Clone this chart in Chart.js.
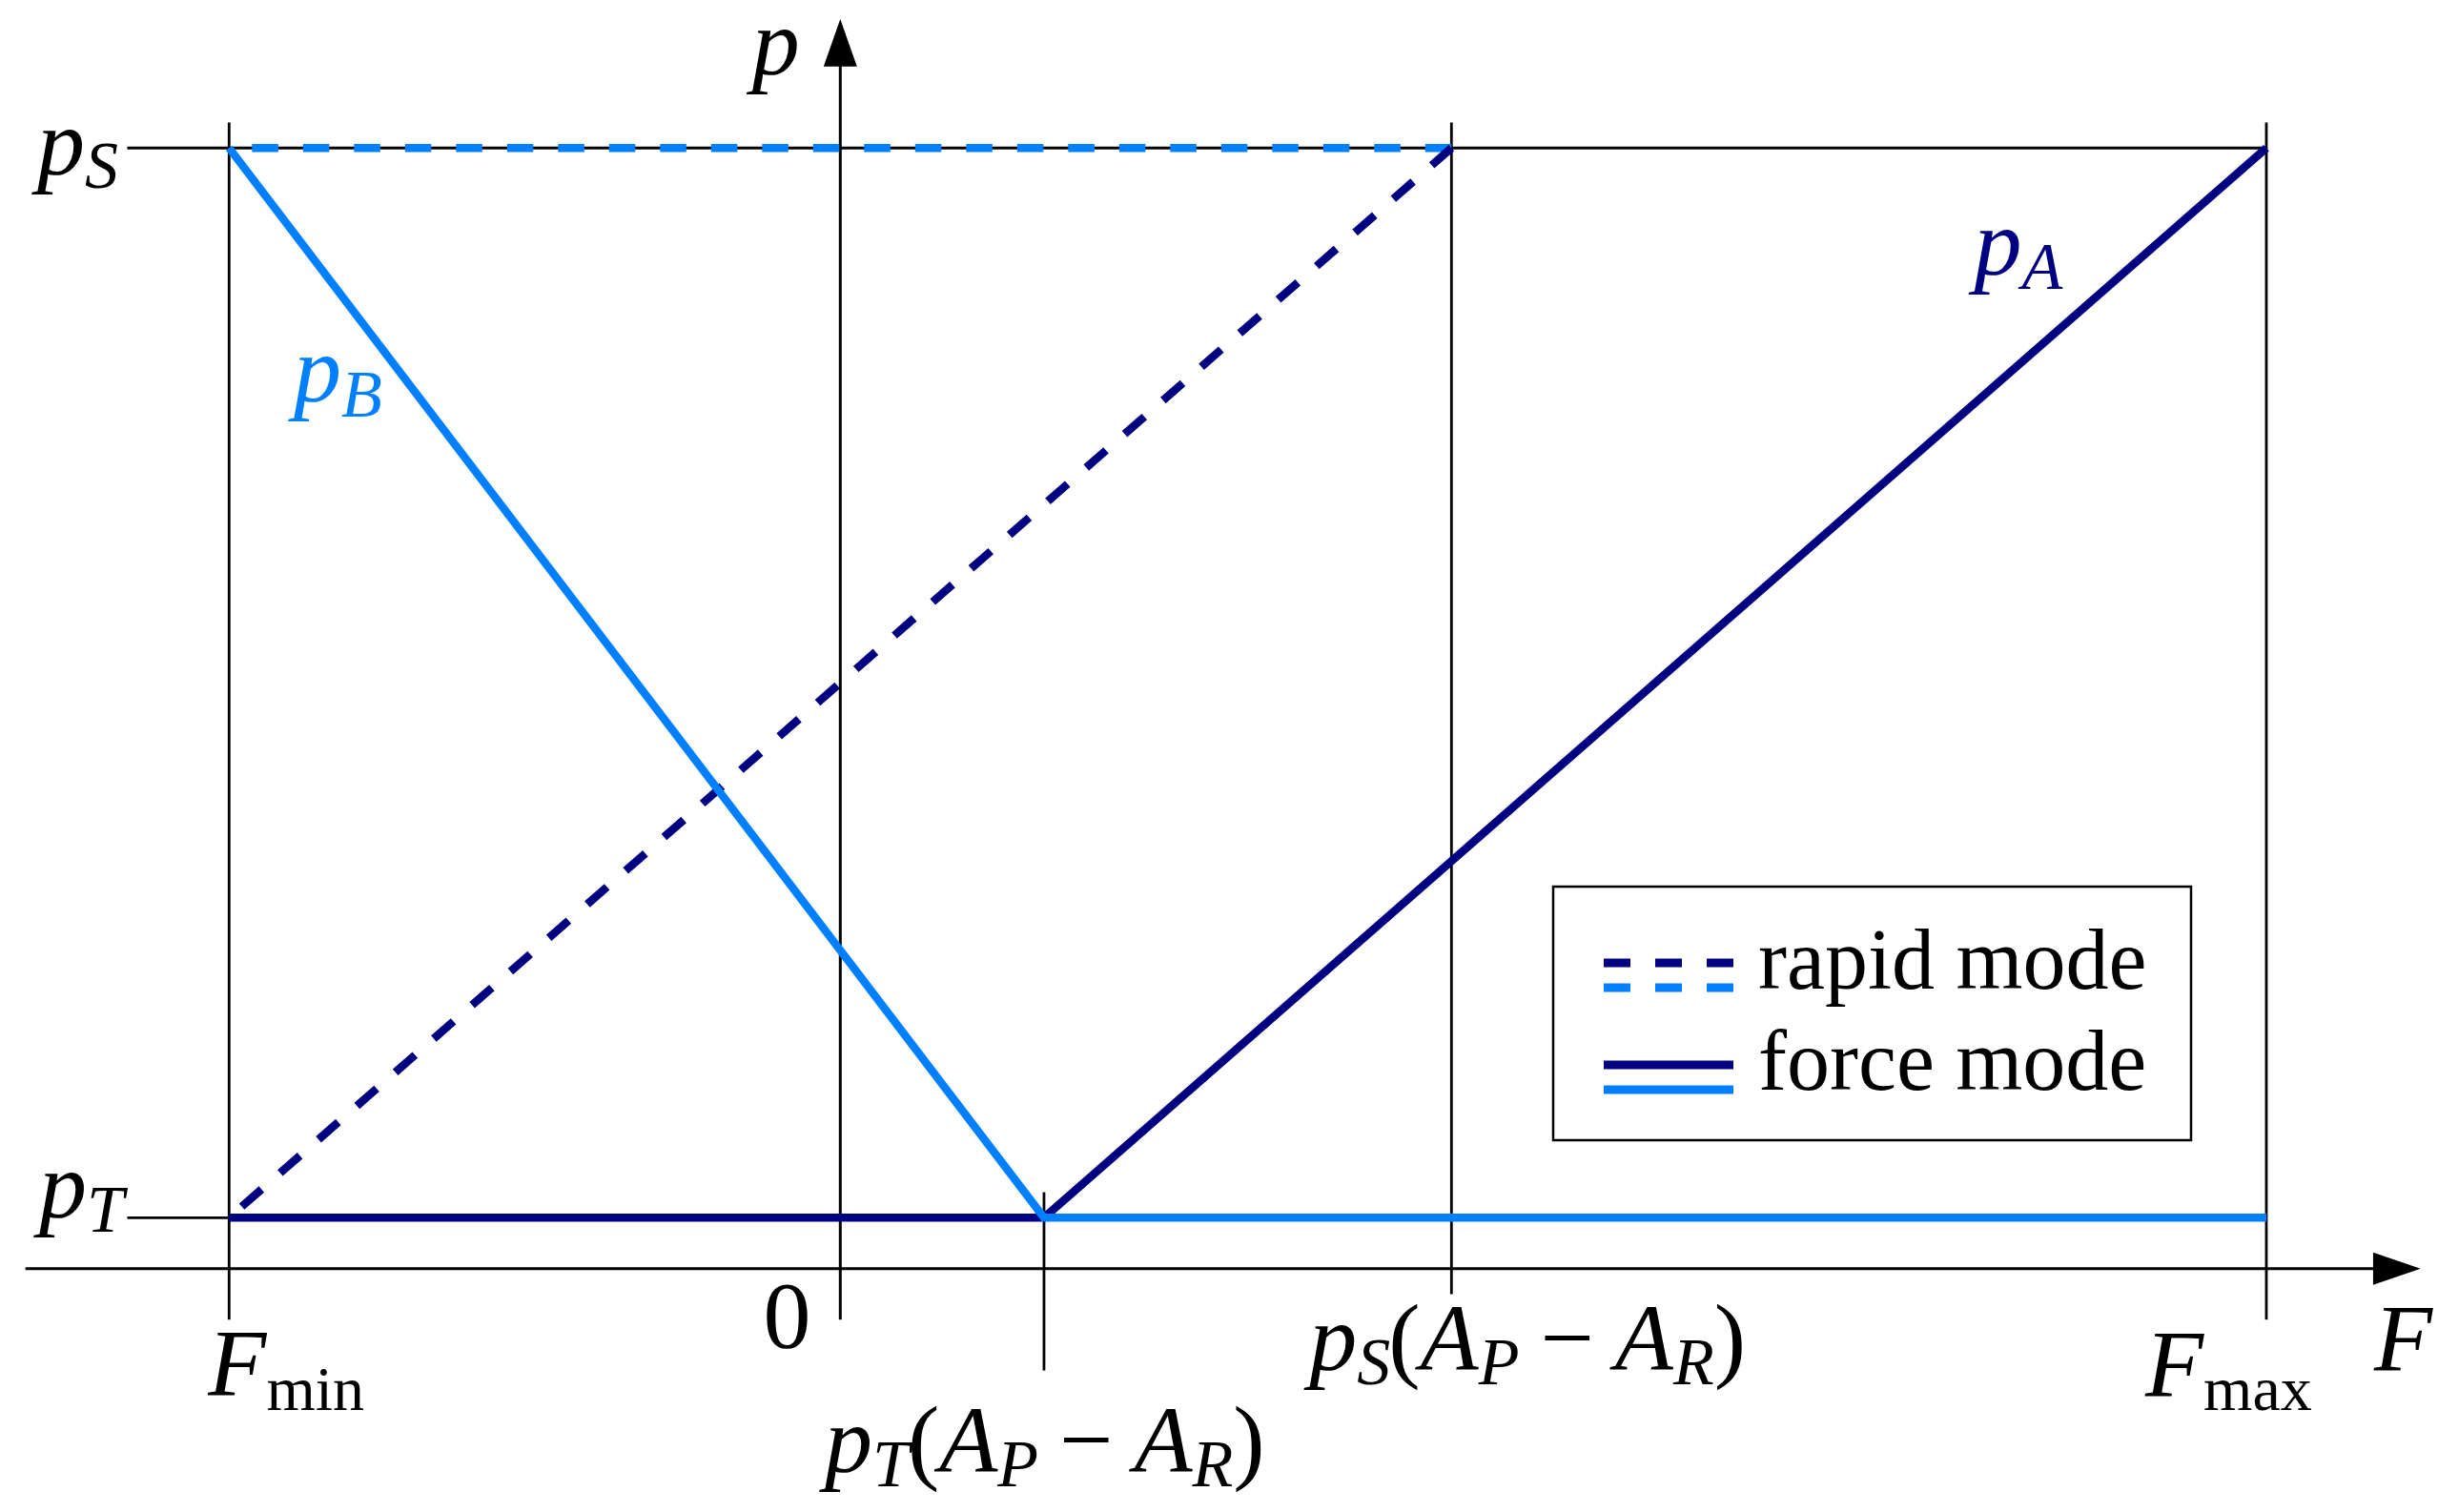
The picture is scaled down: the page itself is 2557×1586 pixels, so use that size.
<!DOCTYPE html>
<html>
<head>
<meta charset="utf-8">
<script src="https://cdn.jsdelivr.net/npm/chart.js@4"></script>
<style>
  html, body { margin: 0; padding: 0; background: #fff; }
  canvas { display: block; }
</style>
</head>
<body>
<canvas id="chart" width="2557" height="1586"></canvas>
<script>
// force axis marks: Fmin, 0, pT(AP-AR), pS(AP-AR), Fmax
const forceTicks = [-3, 0, 1, 3, 7];
// pressure levels: pT, pS
const pressureTicks = [10, 220];

// rapid mode (dashed), listed from the upper right corner
const rapidA_F = [3, -3];
const rapidA_p = [220, 10];
const rapidB_F = [3, -3];
const rapidB_p = [220, 220];

// force mode (solid)
const forceA_F = [-3, 1, 7];
const forceA_p = [10, 10, 220];
const forceB_F = [-3, 1, 7];
const forceB_p = [220, 10, 10];

const NAVY = '#000080';
const LIGHT = '#0080ff';
const DASH = [27.5, 26];

const pts = (xs, ys) => xs.map((x, i) => ({ x: x, y: ys[i] }));

const IT = 'italic 100px "Liberation Serif"';
const RM = '100px "Liberation Serif"';
const ITs = 'italic 70px "Liberation Serif"';
const RMs = '66px "Liberation Serif"';

// draw a row of text pieces, each with its own font and baseline shift
function drawRuns(ctx, x, y, runs, color) {
  ctx.fillStyle = color || '#000';
  ctx.textBaseline = 'alphabetic';
  ctx.textAlign = 'left';
  runs.forEach(r => {
    x += r.pre || 0;
    ctx.font = r.f;
    ctx.fillText(r.t, x, y + (r.dy || 0));
    x += ctx.measureText(r.t).width + (r.post || 0);
  });
}

function coeffRuns(sub) {
  return [
    { t: 'p', f: IT }, { t: sub, f: ITs, dy: 15, post: -2 },
    { t: '(', f: RM }, { t: 'A', f: IT }, { t: 'P', f: ITs, dy: 15 },
    { t: '\u2212', f: RM, pre: 22, post: 22 },
    { t: 'A', f: IT }, { t: 'R', f: ITs, dy: 15 }, { t: ')', f: RM }
  ];
}

const sketch = {
  id: 'sketch',
  beforeDatasetsDraw(chart) {
    const { ctx, scales: { x, y } } = chart;
    ctx.save();
    ctx.strokeStyle = '#000';
    ctx.fillStyle = '#000';
    ctx.lineCap = 'butt';
    const line = (x1, y1, x2, y2, w) => {
      ctx.lineWidth = w;
      ctx.beginPath();
      ctx.moveTo(x1, y1);
      ctx.lineTo(x2, y2);
      ctx.stroke();
    };
    const px = v => x.getPixelForValue(v);
    const py = v => y.getPixelForValue(v);
    const pS = pressureTicks[1], pT = pressureTicks[0];
    const [fMin, f0, fT, fS, fMax] = forceTicks;

    // vertical guide lines
    line(px(fMin), py(225), px(fMin), py(-10), 2.8);
    line(px(fT), py(15), px(fT), py(-20), 2.8);
    line(px(fS), py(225), px(fS), py(-5), 2.8);
    line(px(fMax), py(225), px(fMax), py(-10), 2.8);
    // horizontal guide lines
    line(px(-3.5), py(pS), px(fMax), py(pS), 2.8);
    line(px(-3.5), py(pT), px(fMin), py(pT), 2.8);

    // F axis with arrow
    line(px(-4), py(0), px(7.55), py(0), 3);
    ctx.beginPath();
    ctx.moveTo(px(7.757), py(0));
    ctx.lineTo(px(7.524), py(0) - 17);
    ctx.lineTo(px(7.524), py(0) + 17);
    ctx.closePath();
    ctx.fill();

    // p axis with arrow
    line(px(f0), py(-10), px(f0), py(238), 3);
    ctx.beginPath();
    ctx.moveTo(px(f0), py(245.3));
    ctx.lineTo(px(f0) - 17.5, py(236));
    ctx.lineTo(px(f0) + 17.5, py(236));
    ctx.closePath();
    ctx.fill();
    ctx.restore();
  },
  afterDatasetsDraw(chart) {
    const { ctx, scales: { x, y } } = chart;
    const px = v => x.getPixelForValue(v);
    const py = v => y.getPixelForValue(v);
    const [fMin, f0, fT, fS, fMax] = forceTicks;
    const axisY = py(0);
    ctx.save();

    // pressure labels on the left
    drawRuns(ctx, 39, py(pressureTicks[1]) + 28, [{ t: 'p', f: IT }, { t: 'S', f: ITs, dy: 14 }]);
    drawRuns(ctx, 41, py(pressureTicks[0]), [{ t: 'p', f: IT }, { t: 'T', f: ITs, dy: 15 }]);
    drawRuns(ctx, px(f0) - 92.5, 78, [{ t: 'p', f: IT }]);

    // force labels below the axis
    drawRuns(ctx, px(fMin) - 22, axisY + 132, [{ t: 'F', f: IT }, { t: 'min', f: RMs, dy: 16 }]);
    drawRuns(ctx, px(f0) - 80.7, axisY + 82, [{ t: '0', f: RM }]);
    drawRuns(ctx, px(fT) - 230, axisY + 213, coeffRuns('T'));
    drawRuns(ctx, px(fS) - 149, axisY + 106, coeffRuns('S'));
    drawRuns(ctx, px(fMax) - 127, axisY + 133, [{ t: 'F', f: IT }, { t: 'max', f: RMs, dy: 15 }]);
    drawRuns(ctx, 2490, axisY + 106, [{ t: 'F', f: IT }]);

    // curve names
    drawRuns(ctx, 2070.5, 288, [{ t: 'p', f: IT }, { t: 'A', f: ITs, dy: 15 }], NAVY);
    drawRuns(ctx, 308, 421, [{ t: 'p', f: IT }, { t: 'B', f: ITs, dy: 16 }], LIGHT);

    // legend box
    ctx.fillStyle = '#fff';
    ctx.fillRect(1629, 930, 669, 266);
    ctx.strokeStyle = '#000';
    ctx.lineWidth = 2.5;
    ctx.strokeRect(1629, 930, 669, 266);
    const sample = (yy, color, dash) => {
      ctx.strokeStyle = color;
      ctx.lineWidth = 9;
      ctx.setLineDash(dash);
      ctx.beginPath();
      ctx.moveTo(1682, yy);
      ctx.lineTo(1818, yy);
      ctx.stroke();
      ctx.setLineDash([]);
    };
    sample(1010, NAVY, [28, 26]);
    sample(1036, LIGHT, [28, 26]);
    sample(1117, NAVY, []);
    sample(1143, LIGHT, []);
    const LG = '90px "Liberation Serif"';
    drawRuns(ctx, 1844, 1037, [{ t: 'rapid mode', f: LG }]);
    drawRuns(ctx, 1844, 1143, [{ t: 'force mode', f: LG }]);
    ctx.restore();
  }
};

new Chart(document.getElementById('chart'), {
  type: 'scatter',
  data: {
    datasets: [
      { label: 'pB force mode', data: pts(forceB_F, forceB_p), borderColor: LIGHT, order: 0 },
      { label: 'pA force mode', data: pts(forceA_F, forceA_p), borderColor: NAVY, order: 1 },
      { label: 'pA rapid mode', data: pts(rapidA_F, rapidA_p), borderColor: NAVY, borderDash: DASH, order: 2 },
      { label: 'pB rapid mode', data: pts(rapidB_F, rapidB_p), borderColor: LIGHT, borderDash: DASH, order: 3 }
    ].map(d => Object.assign({
      showLine: true,
      borderWidth: 8.5,
      pointRadius: 0,
      pointHoverRadius: 0,
      fill: false,
      tension: 0,
      clip: false
    }, d))
  },
  options: {
    responsive: false,
    devicePixelRatio: 1,
    animation: false,
    events: [],
    layout: { padding: 0 },
    plugins: { legend: { display: false }, tooltip: { enabled: false } },
    scales: {
      x: { type: 'linear', display: false, min: -4.1246, max: 7.8425 },
      y: { type: 'linear', display: false, min: -47.78, max: 249.06 }
    }
  },
  plugins: [sketch]
});
</script>
</body>
</html>
